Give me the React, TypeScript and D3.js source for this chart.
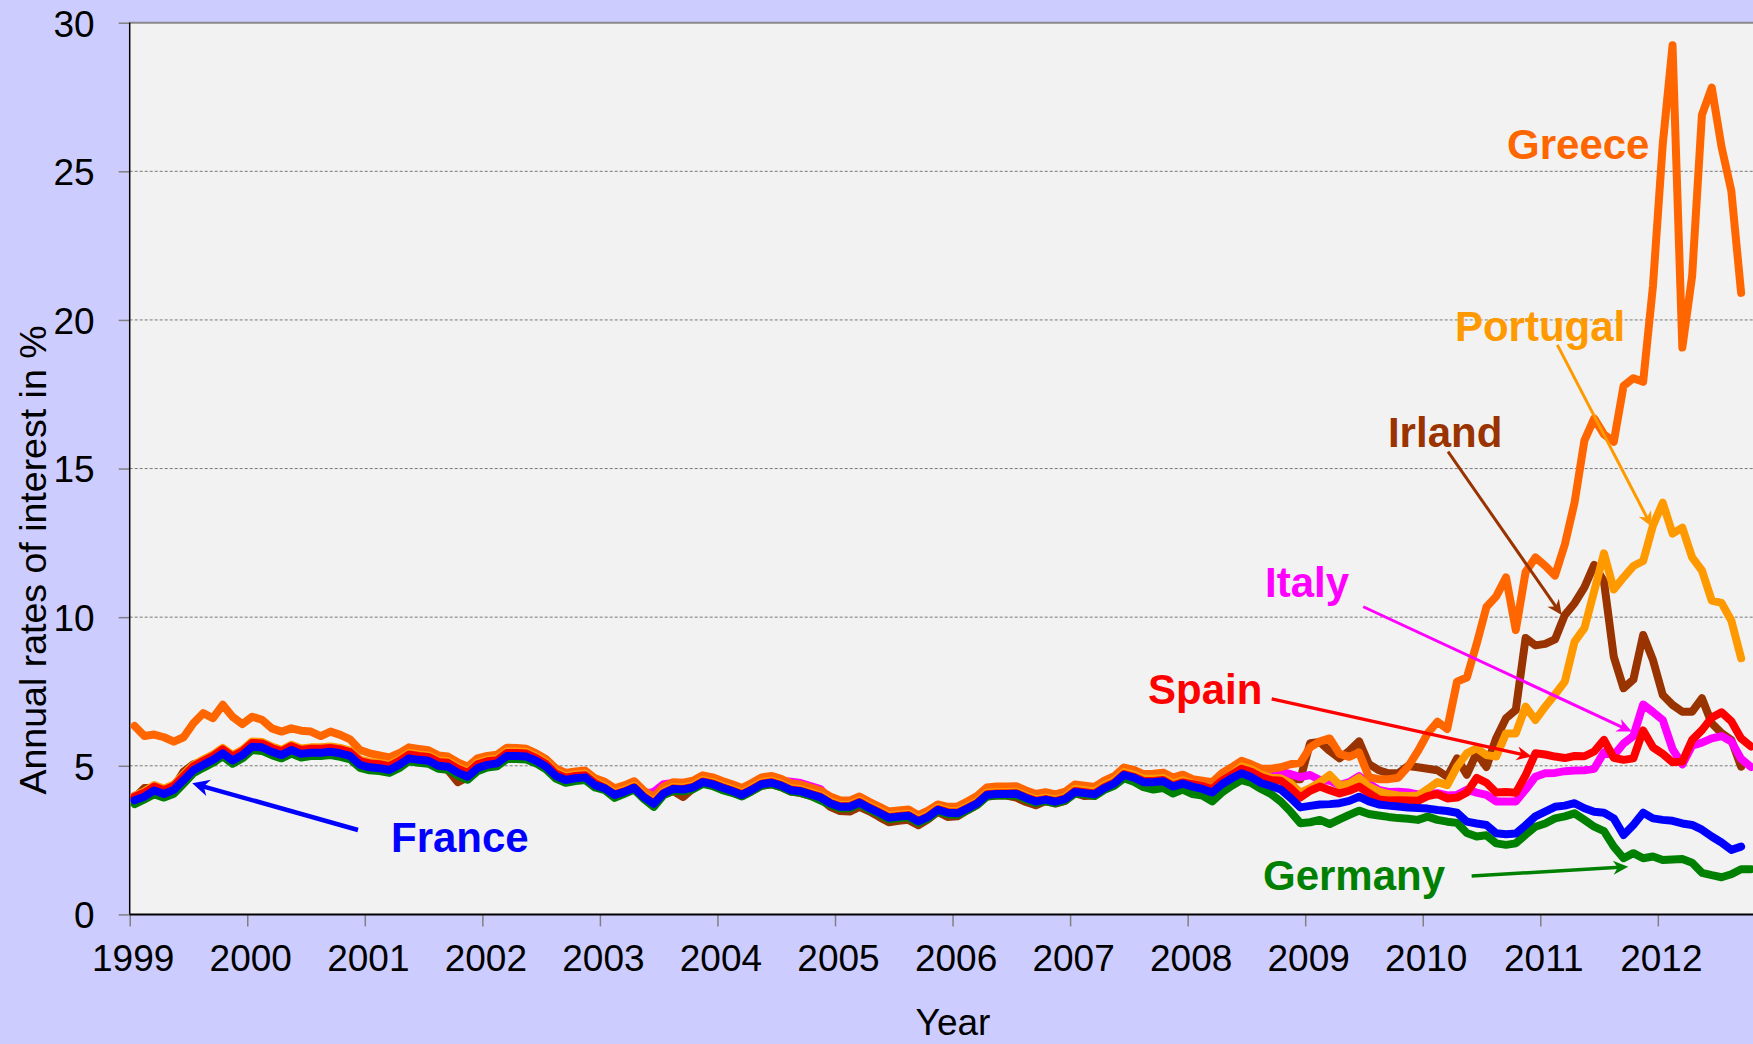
import { useEffect, useRef } from 'react';
import * as d3 from 'd3';

// monthly long-term interest rates, Jan 1999 onwards (values in %)
const yearTicks = [1999, 2000, 2001, 2002, 2003, 2004, 2005, 2006, 2007, 2008, 2009, 2010, 2011, 2012];
const valueTicks = [0, 5, 10, 15, 20, 25, 30];

const greece = [
  6.34, 6.00, 6.05, 5.96, 5.81, 5.96, 6.43, 6.77, 6.60, 7.05, 6.65, 6.40,
  6.65, 6.55, 6.26, 6.15, 6.26, 6.18, 6.15, 6.00, 6.15, 6.04, 5.89, 5.53,
  5.42, 5.35, 5.28, 5.42, 5.62, 5.57, 5.52, 5.35, 5.31, 5.11, 4.97, 5.25,
  5.33, 5.37, 5.61, 5.60, 5.57, 5.42, 5.22, 4.91, 4.76, 4.81, 4.84, 4.58,
  4.46, 4.24, 4.34, 4.48, 4.16, 3.95, 4.30, 4.45, 4.43, 4.50, 4.68, 4.61,
  4.49, 4.38, 4.25, 4.42, 4.61, 4.66, 4.56, 4.41, 4.37, 4.27, 4.17, 3.97,
  3.84, 3.83, 3.97, 3.79, 3.63, 3.46, 3.50, 3.53, 3.34, 3.49, 3.70, 3.62,
  3.63, 3.80, 3.98, 4.27, 4.30, 4.30, 4.31, 4.17, 4.05, 4.11, 4.04, 4.13,
  4.37, 4.33, 4.29, 4.50, 4.65, 4.94, 4.86, 4.72, 4.73, 4.77, 4.60, 4.70,
  4.55, 4.50, 4.45, 4.75, 4.95, 5.17, 5.05, 4.90, 4.90, 4.95, 5.05, 5.10,
  5.62, 5.82, 5.92, 5.40, 5.30, 5.45, 4.62, 4.55, 4.55, 4.60, 4.97, 5.49,
  6.09, 6.48, 6.24, 7.83, 7.97, 9.10, 10.34, 10.70, 11.34, 9.57, 11.52, 12.01,
  11.73, 11.40, 12.44, 13.86, 15.94, 16.69, 16.15, 15.90, 17.78, 18.04, 17.92, 21.14,
  25.91, 29.24, 19.07, 21.48, 26.90, 27.82, 25.82, 24.34, 20.91,
];

const portugal = [
  3.99, 4.14, 4.35, 4.23, 4.37, 4.70, 5.03, 5.21, 5.38, 5.60, 5.36, 5.54,
  5.82, 5.80, 5.65, 5.54, 5.71, 5.58, 5.62, 5.62, 5.65, 5.60, 5.51, 5.21,
  5.13, 5.10, 5.04, 5.21, 5.43, 5.38, 5.35, 5.18, 5.15, 4.95, 4.81, 5.10,
  5.20, 5.24, 5.48, 5.48, 5.46, 5.31, 5.11, 4.79, 4.65, 4.71, 4.73, 4.47,
  4.31, 4.09, 4.19, 4.33, 4.01, 3.79, 4.14, 4.29, 4.27, 4.34, 4.52, 4.45,
  4.33, 4.22, 4.09, 4.26, 4.45, 4.50, 4.40, 4.25, 4.21, 4.11, 4.01, 3.81,
  3.69, 3.69, 3.83, 3.65, 3.49, 3.32, 3.36, 3.39, 3.20, 3.35, 3.59, 3.49,
  3.47, 3.63, 3.80, 4.09, 4.12, 4.12, 4.13, 3.99, 3.87, 3.93, 3.86, 3.95,
  4.22, 4.18, 4.14, 4.35, 4.50, 4.79, 4.70, 4.56, 4.56, 4.59, 4.41, 4.51,
  4.40, 4.33, 4.22, 4.50, 4.72, 4.98, 4.88, 4.70, 4.60, 4.58, 4.42, 4.10,
  4.25, 4.45, 4.69, 4.35, 4.40, 4.60, 4.30, 4.14, 4.05, 4.00, 3.98, 4.00,
  4.22, 4.45, 4.35, 4.97, 5.42, 5.59, 5.36, 5.31, 6.09, 6.09, 6.99, 6.54,
  6.99, 7.40, 7.83, 9.18, 9.63, 10.87, 12.15, 10.93, 11.34, 11.72, 11.89, 13.08,
  13.85, 12.81, 13.01, 12.01, 11.57, 10.56, 10.48, 9.89, 8.62,
];

const irland = [
  3.92, 4.25, 4.25, 4.12, 4.27, 4.80, 5.05, 5.15, 5.30, 5.52, 5.30, 5.50,
  5.75, 5.72, 5.58, 5.47, 5.62, 5.50, 5.55, 5.55, 5.58, 5.53, 5.44, 5.13,
  5.00, 4.97, 4.92, 5.10, 5.33, 5.28, 5.22, 5.03, 4.85, 4.45, 4.62, 5.02,
  5.25, 5.30, 5.45, 5.45, 5.43, 5.28, 5.05, 4.73, 4.57, 4.65, 4.65, 4.40,
  4.22, 4.00, 4.08, 4.22, 3.90, 3.68, 4.03, 4.15, 3.95, 4.24, 4.42, 4.34,
  4.21, 4.10, 3.98, 4.15, 4.33, 4.38, 4.28, 4.13, 4.08, 3.99, 3.90, 3.62,
  3.48, 3.46, 3.62, 3.47, 3.28, 3.10, 3.15, 3.18, 3.00, 3.20, 3.45, 3.28,
  3.30, 3.50, 3.68, 3.97, 4.00, 4.00, 3.93, 3.78, 3.67, 3.81, 3.73, 3.82,
  4.08, 3.98, 4.00, 4.21, 4.36, 4.60, 4.58, 4.40, 4.42, 4.46, 4.28, 4.38,
  4.40, 4.38, 4.35, 4.72, 4.80, 4.98, 4.90, 4.72, 4.68, 4.60, 4.55, 4.55,
  5.76, 5.80, 5.50, 5.25, 5.50, 5.82, 5.06, 4.85, 4.75, 4.75, 4.99, 4.95,
  4.90, 4.85, 4.63, 5.25, 4.70, 5.43, 4.96, 5.93, 6.60, 6.88, 9.30, 9.05,
  9.10, 9.25, 10.07, 10.47, 11.00, 11.76, 11.20, 8.67, 7.61, 7.90, 9.40, 8.56,
  7.38, 7.05, 6.82, 6.82, 7.27, 6.43, 6.10, 5.87, 4.97,
];

const italy = [
  3.99, 4.11, 4.32, 4.20, 4.34, 4.67, 5.00, 5.18, 5.35, 5.57, 5.33, 5.51,
  5.79, 5.77, 5.62, 5.51, 5.68, 5.55, 5.59, 5.59, 5.62, 5.57, 5.48, 5.18,
  5.10, 5.07, 5.01, 5.18, 5.40, 5.35, 5.32, 5.15, 5.12, 4.92, 4.78, 5.07,
  5.18, 5.22, 5.47, 5.47, 5.45, 5.30, 5.10, 4.78, 4.64, 4.70, 4.72, 4.46,
  4.34, 4.12, 4.22, 4.36, 4.05, 4.12, 4.38, 4.42, 4.30, 4.37, 4.55, 4.48,
  4.36, 4.25, 4.12, 4.29, 4.48, 4.54, 4.50, 4.46, 4.42, 4.32, 4.22, 3.85,
  3.72, 3.72, 3.86, 3.68, 3.52, 3.35, 3.39, 3.42, 3.23, 3.38, 3.62, 3.52,
  3.50, 3.66, 3.83, 4.12, 4.15, 4.15, 4.16, 4.02, 3.90, 3.96, 3.89, 3.98,
  4.24, 4.20, 4.16, 4.37, 4.52, 4.81, 4.72, 4.58, 4.58, 4.61, 4.43, 4.53,
  4.45, 4.42, 4.35, 4.60, 4.80, 5.05, 4.95, 4.80, 4.78, 4.80, 4.72, 4.62,
  4.69, 4.52, 4.50, 4.35, 4.45, 4.65, 4.40, 4.19, 4.12, 4.13, 4.10, 4.04,
  4.05, 4.08, 4.00, 4.02, 4.19, 4.10, 4.02, 3.80, 3.80, 3.80, 4.20, 4.63,
  4.75, 4.76, 4.82, 4.84, 4.85, 4.90, 5.45, 5.35, 5.75, 6.00, 7.06, 6.81,
  6.54, 5.56, 5.05, 5.68, 5.78, 5.92, 6.00, 5.82, 5.23, 4.96,
];

const spain = [
  3.96, 4.09, 4.30, 4.18, 4.32, 4.65, 4.98, 5.16, 5.33, 5.55, 5.31, 5.49,
  5.77, 5.75, 5.60, 5.49, 5.66, 5.53, 5.57, 5.57, 5.60, 5.55, 5.46, 5.16,
  5.08, 5.05, 4.99, 5.16, 5.38, 5.33, 5.30, 5.13, 5.10, 4.90, 4.76, 5.05,
  5.15, 5.19, 5.43, 5.43, 5.41, 5.26, 5.06, 4.74, 4.60, 4.66, 4.68, 4.42,
  4.26, 4.04, 4.14, 4.28, 3.96, 3.74, 4.09, 4.24, 4.22, 4.29, 4.47, 4.40,
  4.28, 4.17, 4.04, 4.21, 4.40, 4.45, 4.35, 4.20, 4.16, 4.06, 3.96, 3.76,
  3.64, 3.64, 3.78, 3.60, 3.44, 3.27, 3.31, 3.34, 3.15, 3.30, 3.54, 3.44,
  3.42, 3.58, 3.75, 4.04, 4.07, 4.07, 4.08, 3.94, 3.82, 3.88, 3.81, 3.90,
  4.15, 4.11, 4.07, 4.28, 4.43, 4.72, 4.63, 4.49, 4.49, 4.52, 4.34, 4.44,
  4.38, 4.32, 4.22, 4.50, 4.70, 4.90, 4.80, 4.62, 4.52, 4.50, 4.25, 3.93,
  4.16, 4.30, 4.18, 4.07, 4.16, 4.30, 4.08, 3.87, 3.83, 3.84, 3.83, 3.82,
  3.98, 4.05, 3.90, 3.93, 4.10, 4.59, 4.43, 4.10, 4.12, 4.09, 4.68, 5.42,
  5.38, 5.31, 5.26, 5.33, 5.32, 5.48, 5.87, 5.27, 5.20, 5.25, 6.19, 5.62,
  5.40, 5.12, 5.14, 5.87, 6.20, 6.62, 6.80, 6.50, 5.92, 5.65,
];

const france = [
  3.84, 3.96, 4.17, 4.05, 4.19, 4.52, 4.85, 5.03, 5.20, 5.42, 5.18, 5.36,
  5.64, 5.62, 5.47, 5.36, 5.53, 5.40, 5.44, 5.44, 5.47, 5.42, 5.33, 5.03,
  4.95, 4.92, 4.86, 5.03, 5.25, 5.20, 5.17, 5.00, 4.97, 4.77, 4.63, 4.92,
  5.03, 5.08, 5.33, 5.33, 5.31, 5.17, 4.97, 4.66, 4.52, 4.58, 4.61, 4.35,
  4.24, 4.02, 4.12, 4.26, 3.94, 3.72, 4.07, 4.22, 4.20, 4.27, 4.45, 4.38,
  4.26, 4.15, 4.02, 4.19, 4.38, 4.43, 4.33, 4.18, 4.14, 4.04, 3.94, 3.74,
  3.62, 3.62, 3.76, 3.58, 3.42, 3.25, 3.29, 3.32, 3.13, 3.28, 3.52, 3.42,
  3.40, 3.56, 3.73, 4.02, 4.05, 4.05, 4.06, 3.92, 3.80, 3.86, 3.79, 3.88,
  4.12, 4.08, 4.04, 4.25, 4.40, 4.69, 4.60, 4.45, 4.45, 4.48, 4.30, 4.40,
  4.30, 4.22, 4.10, 4.38, 4.58, 4.75, 4.62, 4.42, 4.32, 4.20, 3.92, 3.60,
  3.65, 3.70, 3.71, 3.74, 3.82, 3.96, 3.80, 3.70, 3.66, 3.63, 3.60, 3.58,
  3.56, 3.51, 3.48, 3.42, 3.12, 3.06, 3.01, 2.73, 2.70, 2.72, 3.00, 3.30,
  3.46, 3.62, 3.66, 3.74, 3.57, 3.45, 3.42, 3.23, 2.67, 3.01, 3.42, 3.23,
  3.18, 3.15, 3.06, 3.01, 2.85, 2.62, 2.42, 2.17, 2.28,
];

const germany = [
  3.71, 3.87, 4.04, 3.93, 4.06, 4.40, 4.75, 4.93, 5.10, 5.32, 5.07, 5.25,
  5.53, 5.50, 5.36, 5.25, 5.41, 5.28, 5.33, 5.33, 5.36, 5.30, 5.22, 4.93,
  4.85, 4.82, 4.76, 4.92, 5.15, 5.10, 5.07, 4.90, 4.87, 4.67, 4.53, 4.82,
  4.94, 4.98, 5.23, 5.23, 5.21, 5.08, 4.88, 4.57, 4.43, 4.49, 4.52, 4.27,
  4.18, 3.92, 4.06, 4.20, 3.88, 3.62, 4.01, 4.16, 4.14, 4.21, 4.39, 4.32,
  4.18, 4.09, 3.97, 4.14, 4.33, 4.38, 4.28, 4.13, 4.09, 3.99, 3.84, 3.69,
  3.57, 3.57, 3.71, 3.53, 3.37, 3.20, 3.24, 3.27, 3.08, 3.23, 3.47, 3.37,
  3.35, 3.51, 3.68, 3.97, 4.00, 4.00, 4.01, 3.87, 3.75, 3.81, 3.74, 3.83,
  4.07, 4.04, 3.98, 4.19, 4.33, 4.58, 4.46, 4.28, 4.20, 4.25, 4.07, 4.20,
  4.05, 4.00, 3.80, 4.10, 4.33, 4.52, 4.42, 4.22, 4.05, 3.80, 3.46, 3.07,
  3.10, 3.18, 3.04, 3.20, 3.35, 3.49, 3.38, 3.33, 3.28, 3.24, 3.22, 3.18,
  3.29, 3.18, 3.12, 3.08, 2.74, 2.62, 2.66, 2.39, 2.34, 2.39, 2.68, 2.95,
  3.06, 3.23, 3.30, 3.40, 3.18, 2.95, 2.80, 2.28, 1.89, 2.06, 1.89, 1.95,
  1.83, 1.85, 1.86, 1.74, 1.40, 1.32, 1.25, 1.35, 1.52, 1.52,
];

// drawing order: first = bottom
const series = [
  { name: 'Irland', color: '#993300', values: irland },
  { name: 'Italy', color: '#FF00FF', values: italy },
  { name: 'Greece', color: '#FF6600', values: greece },
  { name: 'Portugal', color: '#FF9900', values: portugal },
  { name: 'Spain', color: '#FF0000', values: spain },
  { name: 'Germany', color: '#008000', values: germany },
  { name: 'France', color: '#0000FF', values: france },
];

// callouts in data coordinates (year, %)
const callouts = [
  { text: 'France', color: '#0000FF', at: [2001.223, 2.1], from: [2000.942, 2.84], to: [1999.532, 4.41], w: 4.5 },
  { text: 'Greece', color: '#FF6600', at: [2010.717, 25.42] },
  { text: 'Portugal', color: '#FF9900', at: [2010.274, 19.29], from: [2011.145, 19.16], to: [2011.948, 13.04], w: 3 },
  { text: 'Irland', color: '#993300', at: [2009.704, 15.73], from: [2010.215, 15.57], to: [2011.182, 10.07], w: 3 },
  { text: 'Italy', color: '#FF00FF', at: [2008.658, 10.68], from: [2009.494, 10.35], to: [2011.778, 6.15], w: 3 },
  { text: 'Spain', color: '#FF0000', at: [2007.663, 7.08], from: [2008.715, 7.25], to: [2010.927, 5.31], w: 3.5 },
  { text: 'Germany', color: '#008000', at: [2008.641, 0.82], from: [2010.416, 1.29], to: [2011.748, 1.6], w: 3.5 },
];

const W = 1753;
const H = 1044;
const FONT = '"Liberation Sans", Arial, Helvetica, sans-serif';

export default function App() {
  const svgRef = useRef<SVGSVGElement>(null);

  useEffect(() => {
    if (!svgRef.current) return;
    const svg = d3.select(svgRef.current);
    svg.selectAll('*').remove();

    const left = 129.7;
    const top = 22.7;
    const bottom = 914.4;
    const yearPx = 117.55;

    const x = d3.scaleLinear().domain([1999, 2013]).range([left, left + 14 * yearPx]);
    const y = d3.scaleLinear().domain([0, 30]).range([bottom, top]);

    svg.append('rect').attr('width', W).attr('height', H).attr('fill', '#CCCCFF');
    svg.append('rect')
      .attr('x', left).attr('y', top)
      .attr('width', W - left).attr('height', bottom - top)
      .attr('fill', '#F2F2F2');

    // grid
    svg.append('g')
      .selectAll('line')
      .data(valueTicks.filter(v => v > 0 && v < 30))
      .enter().append('line')
      .attr('x1', left).attr('x2', W)
      .attr('y1', d => y(d)).attr('y2', d => y(d))
      .attr('stroke', '#7a7a7a')
      .attr('stroke-width', 1)
      .attr('stroke-dasharray', '3,2');

    // top frame
    svg.append('line')
      .attr('x1', left - 1).attr('x2', W)
      .attr('y1', top).attr('y2', top)
      .attr('stroke', '#8a8a8a').attr('stroke-width', 2);

    // axes
    const yAxis = svg.append('g')
      .attr('transform', `translate(${left},0)`)
      .call(d3.axisLeft(y).tickValues(valueTicks).tickSize(11).tickPadding(24));
    yAxis.select('.domain').remove();
    yAxis.selectAll('.tick line').attr('stroke', '#808080').attr('stroke-width', 1.5);
    yAxis.selectAll('.tick text')
      .attr('fill', '#000').attr('dy', '0.36em')
      .style('font-family', FONT).style('font-size', '37px');

    const xAxis = svg.append('g')
      .attr('transform', `translate(0,${bottom})`)
      .call(d3.axisBottom(x).tickValues(yearTicks).tickSize(12).tickFormat(d3.format('d')));
    xAxis.select('.domain').remove();
    xAxis.selectAll('.tick line').attr('stroke', '#808080').attr('stroke-width', 1.5);
    xAxis.selectAll('.tick text')
      .attr('fill', '#000').attr('y', 57).attr('dy', 0).attr('dx', 3)
      .style('font-family', FONT).style('font-size', '37px');

    svg.append('line')
      .attr('x1', left).attr('x2', left)
      .attr('y1', top).attr('y2', bottom)
      .attr('stroke', '#000').attr('stroke-width', 1.5);
    svg.append('line')
      .attr('x1', left).attr('x2', W)
      .attr('y1', bottom).attr('y2', bottom)
      .attr('stroke', '#000').attr('stroke-width', 2);

    // titles
    svg.append('text')
      .attr('x', 953).attr('y', 1035)
      .attr('text-anchor', 'middle')
      .style('font-family', FONT).style('font-size', '37px')
      .text('Year');
    svg.append('text')
      .attr('transform', 'translate(46,560) rotate(-90)')
      .attr('text-anchor', 'middle')
      .style('font-family', FONT).style('font-size', '37.5px')
      .text('Annual rates of interest in %');

    // lines
    const line = d3.line<number>()
      .x((_, i) => x(1999 + (i + 0.5) / 12))
      .y(d => y(d))
      .curve(d3.curveLinear);

    svg.append('g')
      .selectAll('path')
      .data(series)
      .enter().append('path')
      .attr('d', d => line(d.values))
      .attr('fill', 'none')
      .attr('stroke', d => d.color)
      .attr('stroke-width', 8)
      .attr('stroke-linejoin', 'round')
      .attr('stroke-linecap', 'round');

    // callouts
    const g = svg.append('g');
    callouts.forEach(c => {
      if (c.from && c.to) {
        const x1 = x(c.from[0]), y1 = y(c.from[1]);
        const x2 = x(c.to[0]), y2 = y(c.to[1]);
        const len = Math.hypot(x2 - x1, y2 - y1);
        const ux = (x2 - x1) / len, uy = (y2 - y1) / len;
        const nx = -uy, ny = ux;
        const L = c.w > 4 ? 17 : 15;
        const Wd = c.w > 4 ? 8.5 : 7;
        g.append('line')
          .attr('x1', x1).attr('y1', y1)
          .attr('x2', x2 - ux * L * 0.6).attr('y2', y2 - uy * L * 0.6)
          .attr('stroke', c.color).attr('stroke-width', c.w);
        const pts = [
          [x2, y2],
          [x2 - ux * L + nx * Wd, y2 - uy * L + ny * Wd],
          [x2 - ux * L * 0.7, y2 - uy * L * 0.7],
          [x2 - ux * L - nx * Wd, y2 - uy * L - ny * Wd],
        ];
        g.append('polygon')
          .attr('points', pts.map(p => p.join(',')).join(' '))
          .attr('fill', c.color);
      }
      g.append('text')
        .attr('x', x(c.at[0])).attr('y', y(c.at[1]))
        .attr('fill', c.color)
        .style('font-family', FONT).style('font-size', '42px').style('font-weight', 'bold')
        .text(c.text);
    });
  }, []);

  return (
    <svg
      ref={svgRef}
      width={W}
      height={H}
      style={{ position: 'absolute', left: 0, top: 0, display: 'block' }}
    />
  );
}
